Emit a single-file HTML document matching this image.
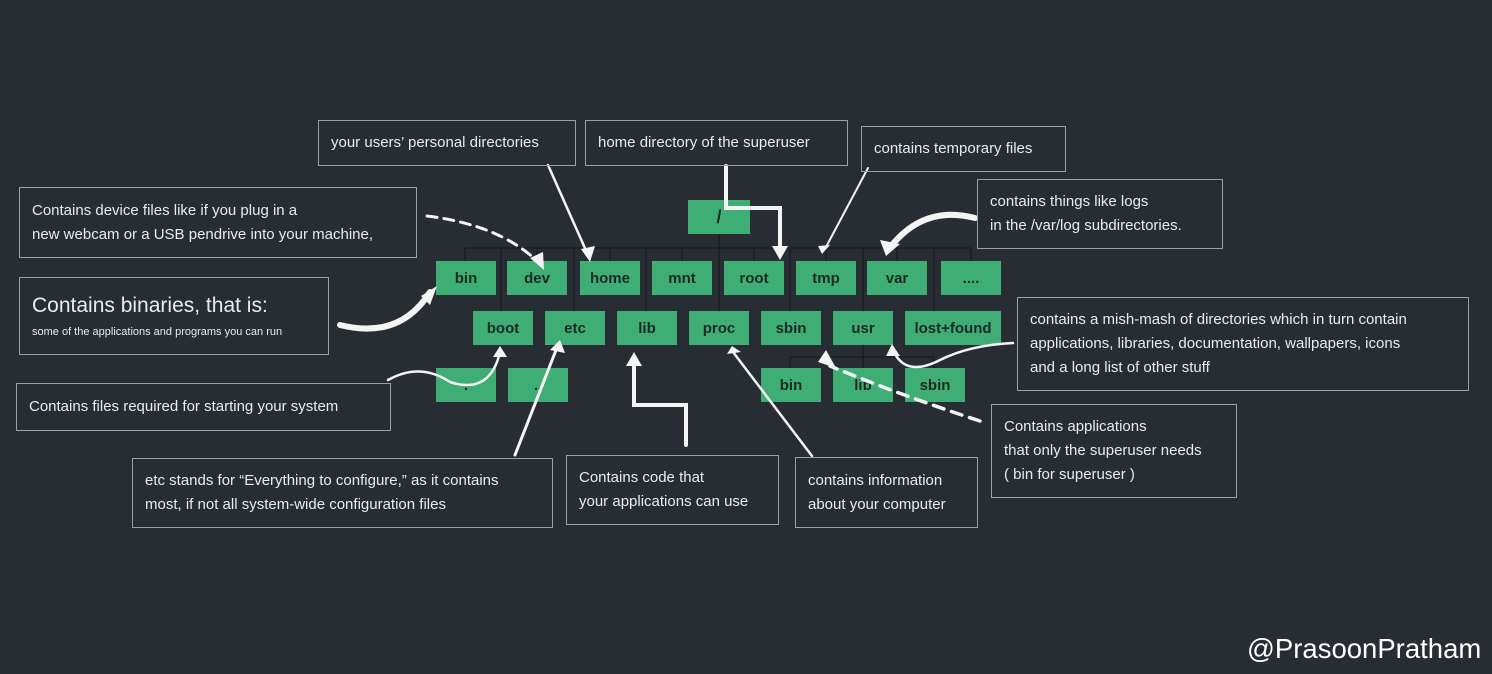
<!DOCTYPE html>
<html><head><meta charset="utf-8"><style>
body{margin:0;width:1492px;height:674px;background:#272d32;position:relative;overflow:hidden;font-family:"Liberation Sans",sans-serif;}
.g{position:absolute;background:#3fae74;color:#1d2a24;font-weight:bold;font-size:15px;display:flex;align-items:center;justify-content:center;height:34px;width:60px;}
.t{position:absolute;border:1.5px solid #9aa0a4;color:#e8ecec;font-size:15px;line-height:24px;padding:0 12px;box-sizing:border-box;display:flex;flex-direction:column;justify-content:center;}
svg{position:absolute;left:0;top:0}
</style></head><body>
<svg width="1492" height="674">
<g stroke="#1a1f23" stroke-width="1.5" fill="none">
<line x1="465" y1="248" x2="971" y2="248"/>
<line x1="719" y1="234" x2="719" y2="311"/>
<line x1="465" y1="248" x2="465" y2="261"/><line x1="537" y1="248" x2="537" y2="261"/><line x1="610" y1="248" x2="610" y2="261"/><line x1="682" y1="248" x2="682" y2="261"/><line x1="754" y1="248" x2="754" y2="261"/><line x1="826" y1="248" x2="826" y2="261"/><line x1="897" y1="248" x2="897" y2="261"/><line x1="971" y1="248" x2="971" y2="261"/>
<line x1="501" y1="248" x2="501" y2="311"/><line x1="574" y1="248" x2="574" y2="311"/><line x1="646" y1="248" x2="646" y2="311"/><line x1="790" y1="248" x2="790" y2="311"/><line x1="863" y1="248" x2="863" y2="311"/><line x1="934" y1="248" x2="934" y2="311"/>
<line x1="863" y1="345" x2="863" y2="368"/><line x1="790" y1="357" x2="934" y2="357"/><line x1="790" y1="357" x2="790" y2="368"/><line x1="934" y1="357" x2="934" y2="368"/>
</g>
</svg>
<div class="g" style="left:688px;top:200px;width:62px;font-size:18px">/</div>
<div class="g" style="left:436px;top:261px">bin</div>
<div class="g" style="left:507px;top:261px">dev</div>
<div class="g" style="left:580px;top:261px">home</div>
<div class="g" style="left:652px;top:261px">mnt</div>
<div class="g" style="left:724px;top:261px">root</div>
<div class="g" style="left:796px;top:261px">tmp</div>
<div class="g" style="left:867px;top:261px">var</div>
<div class="g" style="left:941px;top:261px">....</div>
<div class="g" style="left:473px;top:311px">boot</div>
<div class="g" style="left:545px;top:311px">etc</div>
<div class="g" style="left:617px;top:311px">lib</div>
<div class="g" style="left:689px;top:311px">proc</div>
<div class="g" style="left:761px;top:311px">sbin</div>
<div class="g" style="left:833px;top:311px">usr</div>
<div class="g" style="left:905px;top:311px;width:96px">lost+found</div>
<div class="g" style="left:436px;top:368px">.</div>
<div class="g" style="left:508px;top:368px">..</div>
<div class="g" style="left:761px;top:368px">bin</div>
<div class="g" style="left:833px;top:368px">lib</div>
<div class="g" style="left:905px;top:368px">sbin</div>
<svg width="1492" height="674">
<g stroke="#f4f4f4" fill="none" stroke-linecap="round">
<path d="M427 216 Q500 225 538 262" stroke-width="3" stroke-dasharray="10 7"/>
<path d="M548 165 L588 255" stroke-width="2.5"/>
<path d="M726 166 L726 208 L780 208 L780 250" stroke-width="4"/>
<path d="M868 168 L826 247" stroke-width="2"/>
<path d="M975 218 Q925 205 892 245" stroke-width="6"/>
<path d="M340 325 Q400 340 430 292" stroke-width="6"/>
<path d="M388 380 Q420 362 450 382 Q490 395 500 352" stroke-width="2.5"/>
<path d="M515 455 L558 345" stroke-width="3"/>
<path d="M686 445 L686 405 L634 405 L634 362" stroke-width="4"/>
<path d="M812 456 L733 352" stroke-width="2.5"/>
<path d="M1013 343 Q970 345 940 360 Q905 378 893 350" stroke-width="2.5"/>
<path d="M980 421 Q900 395 830 366" stroke-width="3.5" stroke-dasharray="11 8"/>
</g>
<g fill="#f4f4f4">
<polygon points="530,258 544,270 543,252"/>
<polygon points="581,249 590,262 595,246"/>
<polygon points="772,246 780,260 788,246"/>
<polygon points="818,246 822,254 830,245"/>
<polygon points="880,240 886,256 900,244"/>
<polygon points="421,296 437,286 430,305"/>
<polygon points="493,357 500,346 507,357"/>
<polygon points="550,350 560,340 565,353"/>
<polygon points="626,366 634,352 642,366"/>
<polygon points="727,354 732,346 741,352"/>
<polygon points="886,356 892,344 900,356"/>
<polygon points="818,362 826,350 836,368"/>
</g>
</svg>

<div class="t" style="left:318px;top:120px;width:258px;height:46px">your users’ personal directories</div>
<div class="t" style="left:585px;top:120px;width:263px;height:46px">home directory of the superuser</div>
<div class="t" style="left:861px;top:126px;width:205px;height:46px">contains temporary files</div>
<div class="t" style="left:977px;top:179px;width:246px;height:70px"><span>contains things like logs</span><span>in the /var/log subdirectories.</span></div>
<div class="t" style="left:19px;top:187px;width:398px;height:71px"><span>Contains device files like if you plug in a</span><span>new webcam or a USB pendrive into your machine,</span></div>
<div class="t" style="left:19px;top:277px;width:310px;height:78px"><span style="font-size:21px;line-height:32px">Contains binaries, that is:</span><span style="font-size:11px;line-height:20px">some of the applications and programs you can run</span></div>
<div class="t" style="left:1017px;top:297px;width:452px;height:94px"><span>contains a mish-mash of directories which in turn contain</span><span>applications, libraries, documentation, wallpapers, icons</span><span>and a long list of other stuff</span></div>
<div class="t" style="left:16px;top:383px;width:375px;height:48px">Contains files required for starting your system</div>
<div class="t" style="left:991px;top:404px;width:246px;height:94px"><span>Contains applications</span><span>that only the superuser needs</span><span>( bin for superuser )</span></div>
<div class="t" style="left:132px;top:458px;width:421px;height:70px"><span>etc stands for “Everything to configure,” as it contains</span><span>most, if not all system-wide configuration files</span></div>
<div class="t" style="left:566px;top:455px;width:213px;height:70px"><span>Contains code that</span><span>your applications can use</span></div>
<div class="t" style="left:795px;top:457px;width:183px;height:71px"><span>contains information</span><span>about your computer</span></div>
<div style="position:absolute;left:1247px;top:633px;color:#fff;font-size:27.5px;">@PrasoonPratham</div>
</body></html>
